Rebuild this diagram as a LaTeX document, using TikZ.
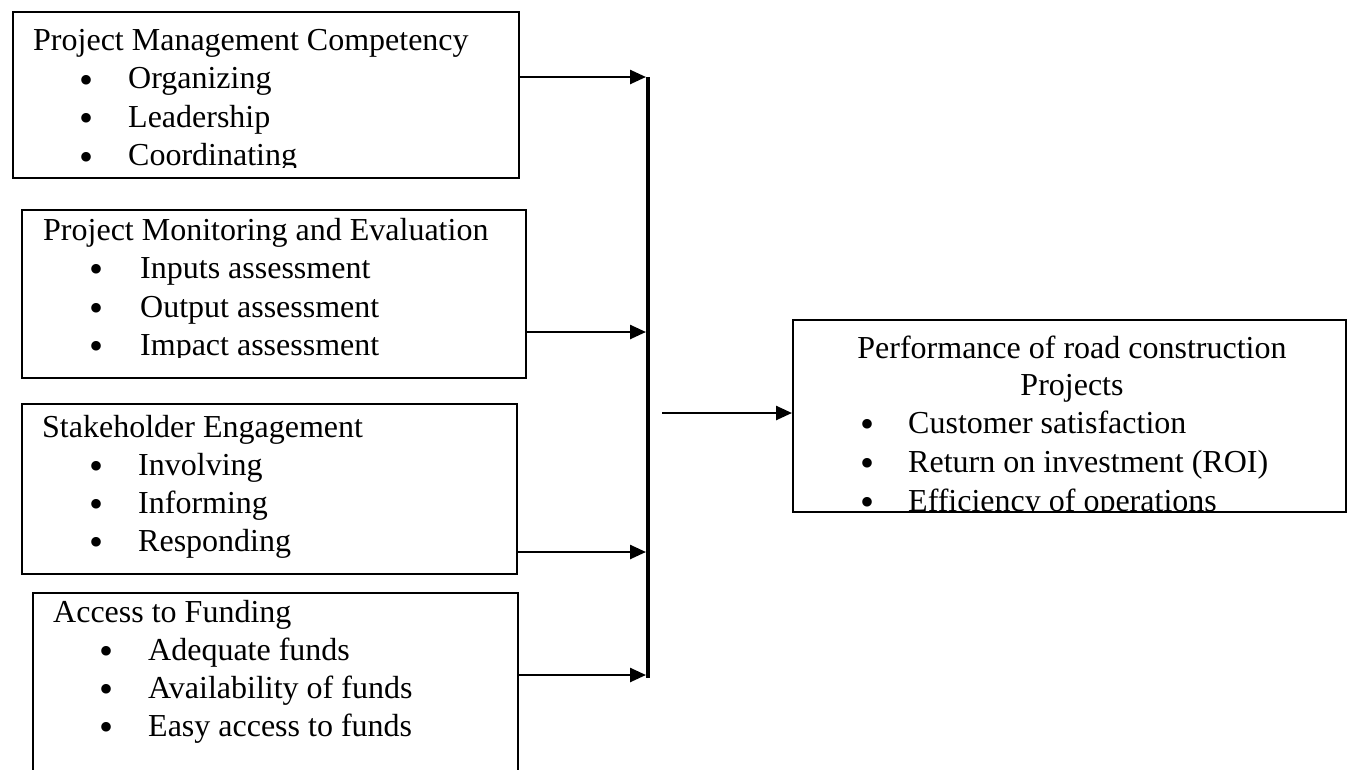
\documentclass[tikz,border=0pt]{standalone}
\usepackage{fontspec}
\setmainfont{Liberation Serif}
\usetikzlibrary{arrows.meta}
\newcommand{\bigbul}{\raisebox{-4.5pt}[7pt][0pt]{•}}
\begin{document}
\begin{tikzpicture}[x=1pt,y=-1pt,
  box/.style={draw=black, line width=2pt, rectangle, inner sep=0pt, anchor=north west},
  txt/.style={anchor=base west, inner sep=0pt, font=\fontsize{32}{38}\selectfont},
  ctxt/.style={anchor=base, inner sep=0pt, font=\fontsize{32}{38}\selectfont},
  bul/.style={anchor=base, inner sep=0pt, font=\fontsize{40}{40}\selectfont},
  conn/.style={line width=2.5pt, -{Triangle[length=16pt,width=14pt]}},
  bar/.style={line width=4.5pt}]
\useasboundingbox (0,0) rectangle (1371,769);
\fill[white] (0,0) rectangle (1371,769);

% boxes
\node[box, minimum width=506pt, minimum height=166pt] (b1) at (12,11) {};
\node[box, minimum width=504pt, minimum height=168pt] (b2) at (21,209) {};
\node[box, minimum width=495pt, minimum height=170pt] (b3) at (21,403) {};
\node[box, minimum width=485pt, minimum height=200pt] (b4) at (32,592) {};
\node[box, minimum width=553pt, minimum height=192pt] (r) at (792,319) {};

% box 1 text
\begin{scope}
\clip (12,11) rectangle (518,167);
\node[txt] (t1) at (33,50) {Project Management Competency};
\node[bul] (t1b1) at (87,88.5) {\bigbul};
\node[txt] (t1i1) at (128,88.5) {Organizing};
\node[bul] (t1b2) at (87,127) {\bigbul};
\node[txt] (t1i2) at (128,127) {Leadership};
\node[bul] (t1b3) at (87,165.5) {\bigbul};
\node[txt] (t1i3) at (128,165.5) {Coordinating};
\end{scope}

% box 2 text
\begin{scope}
\clip (21,209) rectangle (525,357);
\node[txt] (t2) at (43,240) {Project Monitoring and Evaluation};
\node[bul] (t2b1) at (97,278) {\bigbul};
\node[txt] (t2i1) at (140,278) {Inputs assessment};
\node[bul] (t2b2) at (97,317) {\bigbul};
\node[txt] (t2i2) at (140,317) {Output assessment};
\node[bul] (t2b3) at (97,355) {\bigbul};
\node[txt] (t2i3) at (140,355) {Impact assessment};
\end{scope}

% box 3 text
\node[txt] (t3) at (42,437) {Stakeholder Engagement};
\node[bul] (t3b1) at (97,475) {\bigbul};
\node[txt] (t3i1) at (138,475) {Involving};
\node[bul] (t3b2) at (97,513) {\bigbul};
\node[txt] (t3i2) at (138,513) {Informing};
\node[bul] (t3b3) at (97,551) {\bigbul};
\node[txt] (t3i3) at (138,551) {Responding};

% box 4 text
\node[txt] (t4) at (53,622) {Access to Funding};
\node[bul] (t4b1) at (107,660) {\bigbul};
\node[txt] (t4i1) at (148,660) {Adequate funds};
\node[bul] (t4b2) at (107,698) {\bigbul};
\node[txt] (t4i2) at (148,698) {Availability of funds};
\node[bul] (t4b3) at (107,736) {\bigbul};
\node[txt] (t4i3) at (148,736) {Easy access to funds};

% right box text
\begin{scope}
\clip (792,319) rectangle (1345,510);
\node[ctxt] (tr1) at (1072,358) {Performance of road construction};
\node[ctxt] (tr2) at (1072,395) {Projects};
\node[bul] (trb1) at (867,433) {\bigbul};
\node[txt] (tri1) at (908,433) {Customer satisfaction};
\node[bul] (trb2) at (867,472) {\bigbul};
\node[txt] (tri2) at (908,472) {Return on investment (ROI)};
\node[bul] (trb3) at (867,511) {\bigbul};
\node[txt] (tri3) at (908,511) {Efficiency of operations};
\end{scope}

% connectors
\coordinate (vt) at (648,77);
\coordinate (vb) at (648,678);
\draw[bar] (vt) -- (vb);
\coordinate (a1) at (646,77);
\coordinate (a2) at (646,332);
\coordinate (a3) at (646,552);
\coordinate (a4) at (646,675);
\draw[conn] (b1.east |- a1) -- (a1);
\draw[conn] (b2.east |- a2) -- (a2);
\draw[conn] (b3.east |- a3) -- (a3);
\draw[conn] (b4.east |- a4) -- (a4);
\coordinate (m0) at (662,413);
\draw[conn] (m0) -- (r.west |- m0);
\end{tikzpicture}
\end{document}
